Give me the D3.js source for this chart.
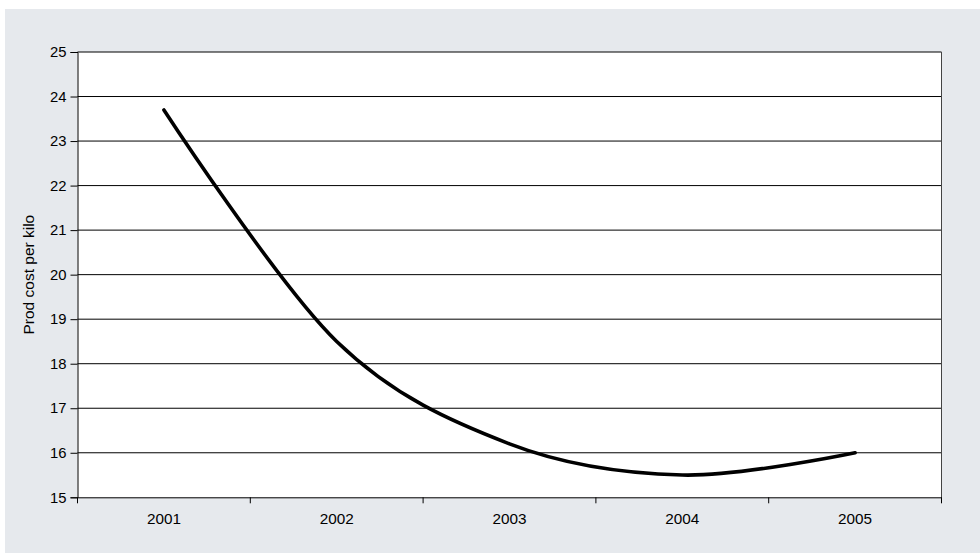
<!DOCTYPE html>
<html>
<head>
<meta charset="utf-8">
<script src="https://cdn.jsdelivr.net/npm/d3@7"></script>
<style>
  html, body { margin: 0; padding: 0; background: #ffffff; }
  svg { display: block; }
  text { font-family: "Liberation Sans", Arial, sans-serif; fill: #000; }
</style>
</head>
<body>
<svg id="chart" width="980" height="553"></svg>
<script>
// Production cost per kilo by year
const years = ["2001", "2002", "2003", "2004", "2005"];
const costPerKilo = [23.7, 18.5, 16.2, 15.5, 16.0];
const yTicks = [15, 16, 17, 18, 19, 20, 21, 22, 23, 24, 25];
const yTitle = "Prod cost per kilo";

const svg = d3.select("#chart");
const W = 980, H = 553;
const plot = { left: 77.5, right: 941.5, top: 52, bottom: 497.3 };

// panel background
svg.append("rect")
  .attr("x", 5).attr("y", 9)
  .attr("width", W - 5).attr("height", H - 9)
  .attr("fill", "#e6e9ed");

// plot area
svg.append("rect")
  .attr("x", plot.left).attr("y", plot.top)
  .attr("width", plot.right - plot.left).attr("height", plot.bottom - plot.top)
  .attr("fill", "#ffffff");

const x = d3.scaleBand().domain(years).range([plot.left, plot.right]).padding(0);
const y = d3.scaleLinear().domain([15, 25]).range([plot.bottom, plot.top]);

// horizontal gridlines
svg.append("g")
  .selectAll("line")
  .data(yTicks.filter(d => d > 15))
  .join("line")
  .attr("x1", plot.left).attr("x2", plot.right)
  .attr("y1", d => y(d)).attr("y2", d => y(d))
  .attr("stroke", "#000").attr("stroke-width", 1);

// right border of plot area
svg.append("line")
  .attr("x1", plot.right).attr("x2", plot.right)
  .attr("y1", plot.top).attr("y2", plot.bottom)
  .attr("stroke", "#444").attr("stroke-width", 1);

// y axis
const yAxis = svg.append("g")
  .attr("transform", `translate(${plot.left},0)`)
  .call(d3.axisLeft(y).tickValues(yTicks).tickSize(7).tickPadding(4).tickFormat(d3.format("d")));
yAxis.select(".domain").attr("stroke", "#000");
yAxis.selectAll(".tick line").attr("stroke", "#000");
yAxis.selectAll("text").style("font-size", "14.8px").style("font-family", "Liberation Sans, Arial, sans-serif");

// x axis with ticks between categories
const xAxis = svg.append("g")
  .attr("transform", `translate(0,${plot.bottom})`)
  .call(d3.axisBottom(x).tickSize(0).tickPadding(16));
xAxis.select(".domain").attr("stroke", "#000");
xAxis.selectAll("text").style("font-size", "15.3px").style("font-family", "Liberation Sans, Arial, sans-serif");

const boundaries = years.map(d => x(d)).concat([x(years[years.length - 1]) + x.bandwidth()]);
svg.append("g")
  .selectAll("line")
  .data(boundaries)
  .join("line")
  .attr("x1", d => d).attr("x2", d => d)
  .attr("y1", plot.bottom).attr("y2", plot.bottom + 6)
  .attr("stroke", "#000").attr("stroke-width", 1);

// y axis title
svg.append("text")
  .attr("transform", `translate(34,${(plot.top + plot.bottom) / 2}) rotate(-90)`)
  .attr("text-anchor", "middle")
  .style("font-size", "15.5px")
  .text(yTitle);

// smoothed cost line
const line = d3.line()
  .x((d, i) => x(years[i]) + x.bandwidth() / 2)
  .y(d => y(d))
  .curve(d3.curveCardinal.tension(0));

svg.append("path")
  .datum(costPerKilo)
  .attr("d", line)
  .attr("fill", "none")
  .attr("stroke", "#000")
  .attr("stroke-width", 3.6)
  .attr("stroke-linejoin", "round")
  .attr("stroke-linecap", "round");
</script>
</body>
</html>
